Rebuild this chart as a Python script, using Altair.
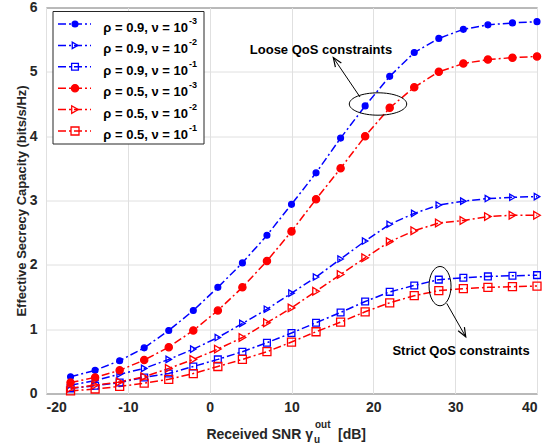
import altair as alt
import pandas as pd

# ---------------- data ----------------
snr_db = [-17, -14, -11, -8, -5, -2, 1, 4, 7, 10, 13, 16, 19, 22, 25, 28, 31, 34, 37, 40]

rho_09_nu_1e3 = [0.26, 0.36, 0.51, 0.71, 0.98, 1.29, 1.65, 2.03, 2.46, 2.94,
                 3.43, 3.97, 4.47, 4.93, 5.30, 5.52, 5.66, 5.73, 5.76, 5.78]
rho_09_nu_1e2 = [0.13, 0.20, 0.30, 0.39, 0.53, 0.69, 0.87, 1.09, 1.31, 1.56,
                 1.81, 2.09, 2.37, 2.63, 2.80, 2.93, 2.99, 3.03, 3.05, 3.06]
rho_09_nu_1e1 = [0.08, 0.12, 0.17, 0.25, 0.31, 0.42, 0.53, 0.65, 0.79, 0.94,
                 1.10, 1.26, 1.43, 1.58, 1.68, 1.77, 1.80, 1.82, 1.83, 1.84]
rho_05_nu_1e3 = [0.17, 0.25, 0.36, 0.52, 0.72, 0.98, 1.29, 1.65, 2.06, 2.52,
                 3.02, 3.50, 4.00, 4.44, 4.76, 5.00, 5.13, 5.19, 5.22, 5.24]
rho_05_nu_1e2 = [0.08, 0.13, 0.18, 0.26, 0.39, 0.53, 0.69, 0.87, 1.10, 1.33,
                 1.59, 1.85, 2.11, 2.36, 2.53, 2.65, 2.69, 2.75, 2.77, 2.77]
rho_05_nu_1e1 = [0.04, 0.07, 0.11, 0.16, 0.22, 0.31, 0.42, 0.53, 0.65, 0.80,
                 0.96, 1.11, 1.27, 1.41, 1.52, 1.60, 1.63, 1.65, 1.66, 1.67]

rho_labels = ["0.9", "0.9", "0.9", "0.5", "0.5", "0.5"]
nu_exponents = ["-3", "-2", "-1", "-3", "-2", "-1"]
series_values = [rho_09_nu_1e3, rho_09_nu_1e2, rho_09_nu_1e1,
                 rho_05_nu_1e3, rho_05_nu_1e2, rho_05_nu_1e1]

x_ticks = [-20, -10, 0, 10, 20, 30, 40]
y_ticks = [0, 1, 2, 3, 4, 5, 6]

# ---------------- styles ----------------
BLUE, RED = "#0000ff", "#ff0000"
colors = [BLUE, BLUE, BLUE, RED, RED, RED]
shapes = ["circle", "triangle-right", "square", "circle", "triangle-right", "square"]
fills = [BLUE, "transparent", "transparent", RED, "transparent", "transparent"]
sizes = [34, 64, 18, 34, 64, 18]
FONT = "Liberation Sans"
DASH = [8, 3, 2, 3]

series_names = [f"ρ = {r}, ν = 10^{e}" for r, e in zip(rho_labels, nu_exponents)]

rows = []
for name, vals in zip(series_names, series_values):
    for x, y in zip(snr_db, vals):
        rows.append({"series": name, "snr": x, "cap": y})
df = pd.DataFrame(rows)

color_scale = alt.Scale(domain=series_names, range=colors)
shape_scale = alt.Scale(domain=series_names, range=shapes)
fill_scale = alt.Scale(domain=series_names, range=fills)
size_scale = alt.Scale(domain=series_names, range=sizes)

W, H = 491, 386

xs = alt.X("snr:Q", scale=alt.Scale(domain=[-20, 40], nice=False),
           axis=alt.Axis(values=x_ticks, title=None, labelExpr="datum.value + ''",
                         grid=True, ticks=False, domain=False, labelPadding=7))
ys = alt.Y("cap:Q", scale=alt.Scale(domain=[0, 6], nice=False),
           axis=alt.Axis(values=y_ticks, labelExpr="datum.value + ''",
                         title="Effective Secrecy Capacity (bits/s/Hz)",
                         grid=True, ticks=False, domain=False, labelPadding=9,
                         titleX=-25, titleY=H / 2, titleAngle=270,
                         titleAlign="center", titleBaseline="middle"))

lines = alt.Chart(df).mark_line(strokeWidth=1.5, strokeDash=DASH).encode(
    x=xs, y=ys,
    color=alt.Color("series:N", scale=color_scale, legend=None),
    detail="series:N",
)
points = alt.Chart(df).mark_point(strokeWidth=1.3, opacity=1).encode(
    x="snr:Q", y="cap:Q",
    stroke=alt.Stroke("series:N", scale=color_scale, legend=None),
    fill=alt.Fill("series:N", scale=fill_scale, legend=None),
    shape=alt.Shape("series:N", scale=shape_scale, legend=None),
    size=alt.Size("series:N", scale=size_scale, legend=None),
)

# ---------------- annotations (data coordinates) ----------------
ann_text = pd.DataFrame({
    "snr": [13.6, 30.72],
    "cap": [5.345, 0.665],
    "txt": ["Loose QoS constraints", "Strict QoS constraints"],
})
texts = alt.Chart(ann_text).mark_text(font=FONT, fontWeight="bold", fontSize=13,
                                      color="#000000", align="center",
                                      baseline="middle").encode(
    x="snr:Q", y="cap:Q", text="txt:N")

ell_df = pd.DataFrame({
    "snr": [20.57, 28.15],
    "cap": [4.50, 1.669],
    "shp": ["M-1,0A1,0.39,0,1,0,1,0A1,0.39,0,1,0,-1,0",
            "M0,-1A0.56,1,0,1,0,0,1A0.56,1,0,1,0,0,-1"],
    "sz": [3295, 1545],
})
ellipses = alt.Chart(ell_df).mark_point(filled=False, stroke="#000000",
                                        strokeWidth=1, opacity=1).encode(
    x="snr:Q", y="cap:Q",
    shape=alt.Shape("shp:N", scale=None),
    size=alt.Size("sz:Q", scale=None),
)

arrow_df = pd.DataFrame({
    "snr": [18.37, 28.97], "cap": [4.609, 1.401],
    "snr2": [15.11, 31.29], "cap2": [5.221, 0.882],
    "ang": [325.9, 150.4],
})
arrow_lines = alt.Chart(arrow_df).mark_rule(color="#000000", strokeWidth=1).encode(
    x="snr:Q", y="cap:Q", x2="snr2:Q", y2="cap2:Q")
arrow_heads = alt.Chart(arrow_df).mark_point(
    shape="M-0.4,1L0,0L0.4,1", size=324, filled=False, stroke="#000000",
    strokeWidth=1.2, opacity=1).encode(
    x="snr2:Q", y="cap2:Q", angle=alt.Angle("ang:Q", scale=None))

# ---------------- x-axis title with sub/superscript ----------------
one = pd.DataFrame({"a": [0]})
xt_main = alt.Chart(one).mark_text(font=FONT, fontWeight="bold", fontSize=14,
                                   color="#262626", align="right",
                                   baseline="middle").encode(
    x=alt.value(267), y=alt.value(427), text=alt.value("Received SNR γ"))
xt_sub = alt.Chart(one).mark_text(font=FONT, fontWeight="bold", fontSize=10,
                                  color="#262626", align="left",
                                  baseline="middle").encode(
    x=alt.value(268), y=alt.value(432), text=alt.value("u"))
xt_sup = alt.Chart(one).mark_text(font=FONT, fontWeight="bold", fontSize=10,
                                  color="#262626", align="left",
                                  baseline="middle").encode(
    x=alt.value(269), y=alt.value(417), text=alt.value("out"))
xt_end = alt.Chart(one).mark_text(font=FONT, fontWeight="bold", fontSize=14,
                                  color="#262626", align="left",
                                  baseline="middle").encode(
    x=alt.value(292), y=alt.value(427), text=alt.value("[dB]"))

main = alt.layer(lines, points, ellipses, arrow_lines, arrow_heads, texts,
                 xt_main, xt_sub, xt_sup, xt_end)

# ---------------- legend ----------------
leg_df = pd.DataFrame({
    "series": series_names,
    "idx": list(range(len(series_names))),
    "lab": [f"ρ = {r}, ν = 10" for r in rho_labels],
    "exp": nu_exponents,
})
ly = alt.Y("idx:Q", scale=alt.Scale(domain=[0, 5], range=[16.5, 123.5]), axis=None)

leg_box = alt.Chart(one).mark_rect(fill="#ffffff", stroke="#262626",
                                   strokeWidth=1).encode(
    x=alt.value(7), x2=alt.value(158), y=alt.value(4), y2=alt.value(136.5))
leg_lines = alt.Chart(leg_df).mark_rule(strokeWidth=1.5, strokeDash=DASH).encode(
    x=alt.value(12), x2=alt.value(45), y=ly,
    color=alt.Color("series:N", scale=color_scale, legend=None))
leg_pts = alt.Chart(leg_df).mark_point(strokeWidth=1.3, opacity=1).encode(
    x=alt.value(29), y=ly,
    stroke=alt.Stroke("series:N", scale=color_scale, legend=None),
    fill=alt.Fill("series:N", scale=fill_scale, legend=None),
    shape=alt.Shape("series:N", scale=shape_scale, legend=None),
    size=alt.Size("series:N", scale=size_scale, legend=None),
)
leg_txt = alt.Chart(leg_df).mark_text(font=FONT, fontWeight="bold", fontSize=13,
                                      color="#000000", align="right",
                                      baseline="middle", dy=4).encode(
    x=alt.value(142), y=ly, text="lab:N")
leg_exp = alt.Chart(leg_df).mark_text(font=FONT, fontWeight="bold", fontSize=9,
                                      color="#000000", align="left",
                                      baseline="middle", dy=-3).encode(
    x=alt.value(143), y=ly, text="exp:N")

legend = alt.layer(leg_box, leg_lines, leg_pts, leg_txt, leg_exp)

chart = alt.layer(main, legend).resolve_scale(
    y="independent", x="independent"
).properties(
    width=W, height=H,
    padding={"left": 46, "top": 7.5, "right": 18, "bottom": 51.5},
    autosize=alt.AutoSizeParams(type="none"),
    background="#ffffff",
).configure_view(
    stroke="#262626", strokeWidth=1
).configure_axis(
    labelFont=FONT, labelFontWeight="bold", labelFontSize=14, labelColor="#262626",
    titleFont=FONT, titleFontWeight="bold", titleFontSize=13, titleColor="#262626",
    gridColor="#e0e0e0", gridWidth=1,
)

chart.save("out.html", embed_options={"renderer": "svg", "actions": False})
